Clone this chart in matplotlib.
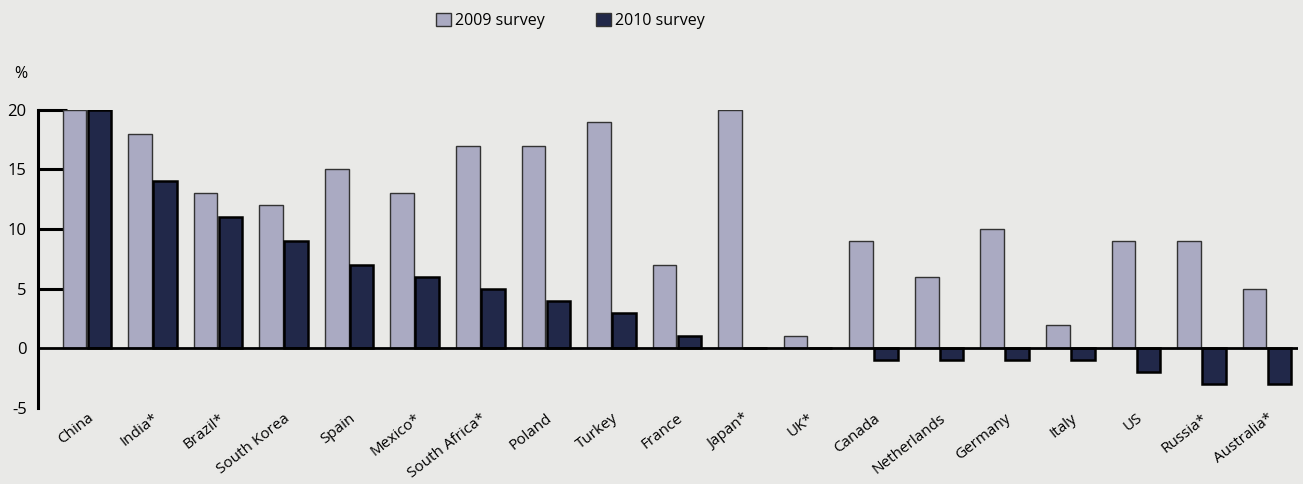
import matplotlib
matplotlib.use("Agg")
import matplotlib.pyplot as plt
import numpy as np
from matplotlib.patches import Patch

countries = ["China", "India*", "Brazil*", "South Korea", "Spain", "Mexico*", "South Africa*",
             "Poland", "Turkey", "France", "Japan*", "UK*", "Canada", "Netherlands", "Germany",
             "Italy", "US", "Russia*", "Australia*"]
survey_2009 = [20, 18, 13, 12, 15, 13, 17, 17, 19, 7, 20, 1, 9, 6, 10, 2, 9, 9, 5]
survey_2010 = [20, 14, 11, 9, 7, 6, 5, 4, 3, 1, 0, 0, -1, -1, -1, -1, -2, -3, -3]
yticks = [-5, 0, 5, 10, 15, 20]

bg = "#e9e9e7"
c09 = "#aaaac2"
c10 = "#212849"

plt.rcParams['font.family'] = ['Open Sans', 'DejaVu Sans']
fig = plt.figure(figsize=(13.03, 4.84), dpi=100, facecolor=bg)
ax = fig.add_axes([0.029, 0.157, 0.967, 0.616], facecolor=bg)

x = np.arange(len(countries))
w = 0.36
ax.bar(x - 0.19, survey_2009, w, color=c09, edgecolor="#333333", linewidth=1.0, zorder=2)
ax.bar(x + 0.19, survey_2010, w, color=c10, edgecolor="black", linewidth=1.8, zorder=2)

ax.axhline(0, color="black", linewidth=2, zorder=3)
ax.set_xlim(-0.75, 18.47)
ax.set_ylim(-5, 20)
ax.set_yticks(yticks)
ax.set_yticklabels([str(v) for v in yticks], fontsize=12)
ax.tick_params(axis='y', direction='in', length=21, width=2.2, pad=8, color='black')
ax.yaxis.get_major_ticks()[0].tick1line.set_visible(False)
ax.yaxis.get_major_ticks()[1].tick1line.set_visible(False)

ax.set_xticks(x)
ax.set_xticklabels(countries, rotation=38, ha='right', rotation_mode='anchor', fontsize=11)
ax.tick_params(axis='x', length=0, pad=2)

for s in ["top", "right", "bottom"]:
    ax.spines[s].set_visible(False)
ax.spines["left"].set_linewidth(2.2)

fig.text(0.011, 0.838, "%", fontsize=11.5)

handles = [Patch(facecolor=c09, edgecolor="#333333", label="2009 survey"),
           Patch(facecolor=c10, edgecolor="#333333", label="2010 survey")]
fig.legend(handles=handles, loc="center", bbox_to_anchor=(0.438, 0.957), ncol=2, frameon=False,
           fontsize=11.5, handlelength=0.9, handleheight=0.9, handletextpad=0.3, columnspacing=3.2)

fig.savefig("out.png", dpi=100, facecolor=bg)
